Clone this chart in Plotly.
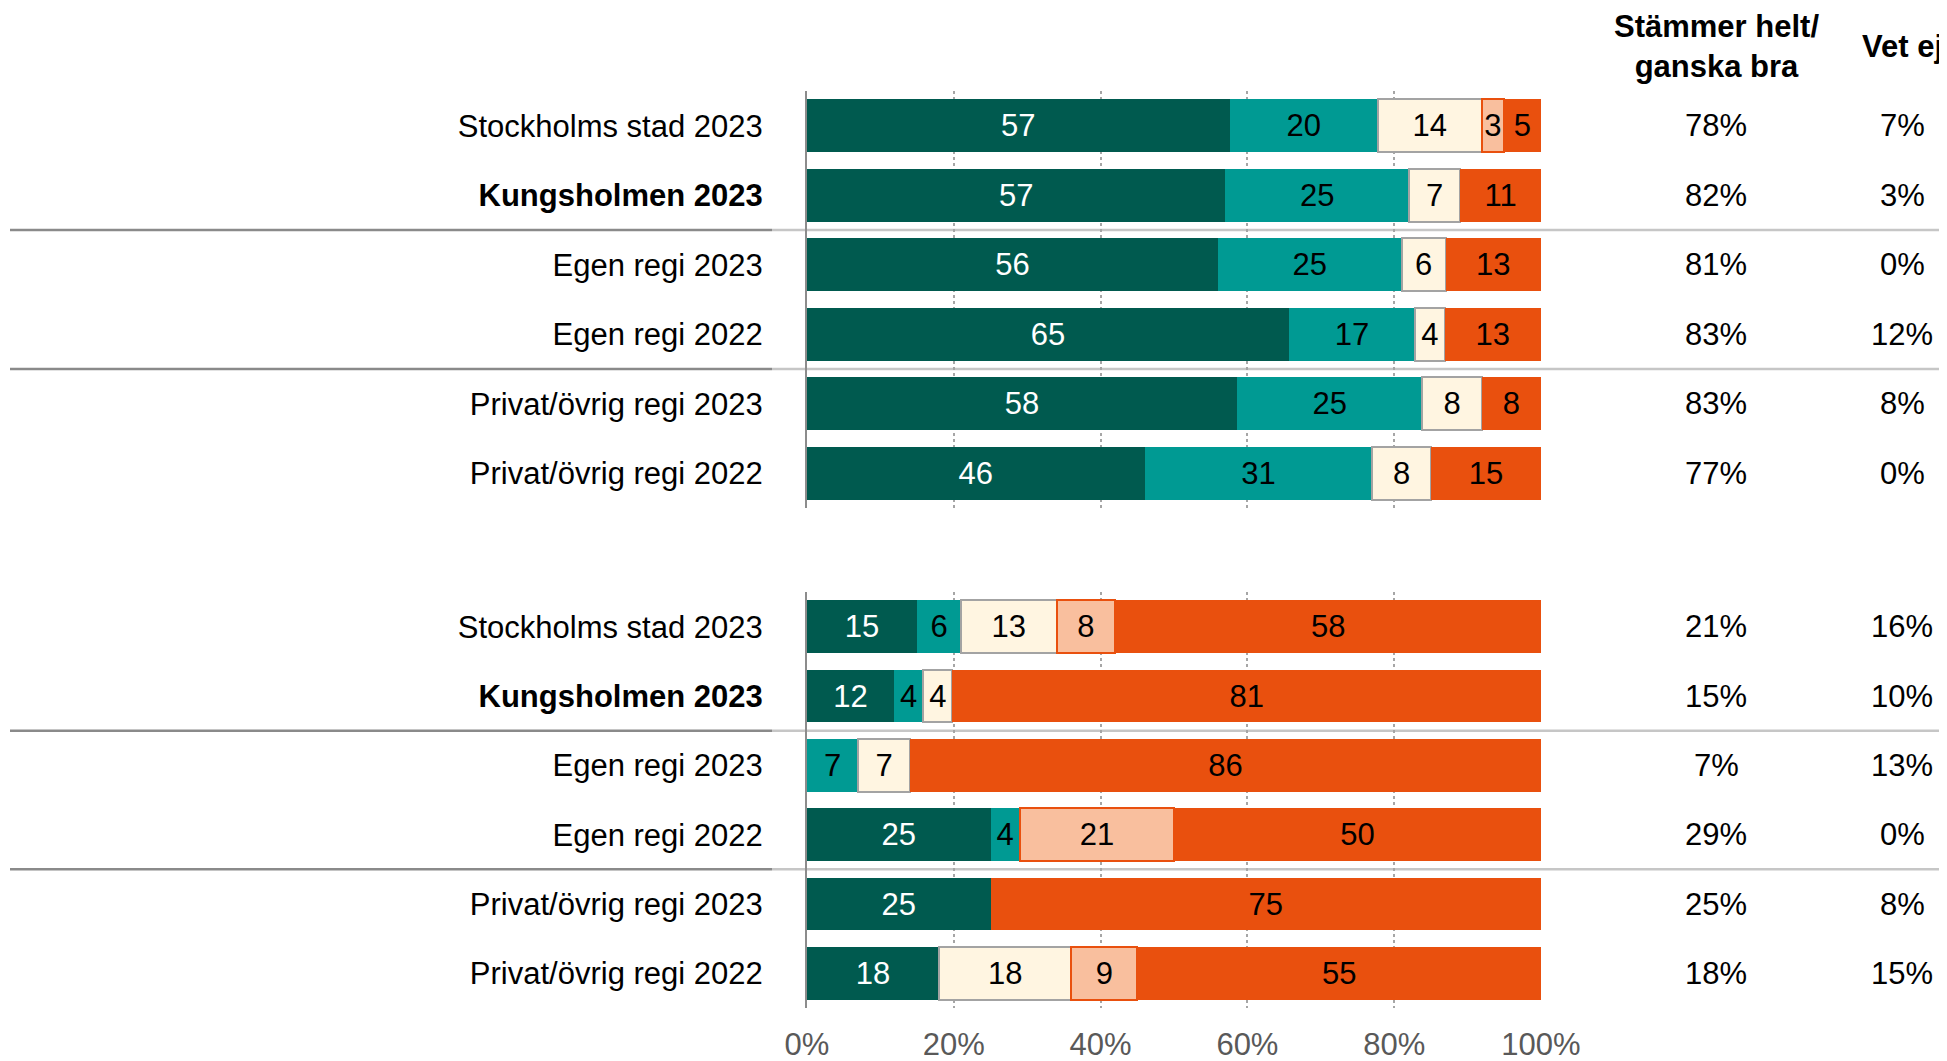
import plotly.graph_objects as go

# ---------------- data ----------------
categories = ["Stockholms stad 2023", "Kungsholmen 2023", "Egen regi 2023",
              "Egen regi 2022", "Privat/övrig regi 2023", "Privat/övrig regi 2022"]
bold_category = "Kungsholmen 2023"
series_names = ["Stämmer helt", "Stämmer ganska bra", "Varken eller",
                "Stämmer ganska dåligt", "Stämmer helt dåligt"]

top_s1 = [57, 57, 56, 65, 58, 46]
top_s2 = [20, 25, 25, 17, 25, 31]
top_s3 = [14, 7, 6, 4, 8, 8]
top_s4 = [3, 0, 0, 0, 0, 0]
top_s5 = [5, 11, 13, 13, 8, 15]
top_good = ["78%", "82%", "81%", "83%", "83%", "77%"]
top_dontknow = ["7%", "3%", "0%", "12%", "8%", "0%"]

bottom_s1 = [15, 12, 0, 25, 25, 18]
bottom_s2 = [6, 4, 7, 4, 0, 0]
bottom_s3 = [13, 4, 7, 0, 0, 18]
bottom_s4 = [8, 0, 0, 21, 0, 9]
bottom_s5 = [58, 81, 86, 50, 75, 55]
bottom_good = ["21%", "15%", "7%", "29%", "25%", "18%"]
bottom_dontknow = ["16%", "10%", "13%", "0%", "8%", "15%"]

col_header_good = "Stämmer helt/<br>ganska bra"
col_header_dontknow = "Vet ej"
x_ticks = [0, 20, 40, 60, 80, 100]
x_tick_labels = ["0%", "20%", "40%", "60%", "80%", "100%"]

# ---------------- styles / geometry ----------------
FONT = "Liberation Sans, Arial, sans-serif"
FS = 31
fills = ["#005a4f", "#009a93", "#fff5e1", "#f9bf9e", "#e9500e"]
borders = [None, None, "#a3a3a3", "#e9500e", None]
txtcol = ["white", "black", "black", "black", "black"]

W0, H0 = 1947, 1061
OFF = 8  # page body margin
W, H = W0 - OFF, H0 - OFF


def px(p):
    return (p - OFF) / W


def py(p):
    return 1 - (p - OFF) / H


xdom = [px(807), px(1541)]
ydom_top = [py(508), py(91)]
ydom_bot = [py(1008), py(592)]

fig = go.Figure()

groups = [
    ([top_s1, top_s2, top_s3, top_s4, top_s5], "x", "y", top_good, top_dontknow),
    ([bottom_s1, bottom_s2, bottom_s3, bottom_s4, bottom_s5], "x2", "y2", bottom_good, bottom_dontknow),
]

for series, xa, ya, good, dk in groups:
    for i, vals in enumerate(series):
        fig.add_trace(go.Bar(
            y=categories,
            x=[v if v else None for v in vals],
            orientation="h",
            name=series_names[i],
            xaxis=xa, yaxis=ya,
            marker=dict(color=fills[i],
                        line=dict(color=borders[i] or fills[i],
                                  width=2 if borders[i] else 0)),
            text=[str(v) if v else "" for v in vals],
            textposition="inside",
            insidetextanchor="middle",
            textangle=0,
            textfont=dict(family=FONT, size=FS, color=txtcol[i]),
            width=0.76,
            showlegend=False,
            hoverinfo="skip",
        ))
    for c, g, d in zip(categories, good, dk):
        fig.add_annotation(x=px(1716), y=c, xref="paper", yref=ya, text=g,
                           showarrow=False, xanchor="center", yanchor="middle",
                           font=dict(family=FONT, size=FS, color="black"))
        fig.add_annotation(x=px(1902), y=c, xref="paper", yref=ya, text=d,
                           showarrow=False, xanchor="center", yanchor="middle",
                           font=dict(family=FONT, size=FS, color="black"))
    # separator lines between category groups (darker under labels, lighter across chart)
    for yb in (1.5, 3.5):
        fig.add_shape(type="line", xref="paper", yref=ya,
                      x0=px(10), x1=px(772), y0=yb, y1=yb,
                      line=dict(color="#8a8a8a", width=2.5),
                      layer="below")
        fig.add_shape(type="line", xref="paper", yref=ya,
                      x0=px(772), x1=1.0, y0=yb, y1=yb,
                      line=dict(color="#c6c6c6", width=2.5),
                      layer="below")

fig.add_annotation(x=px(1716), y=py(47), xref="paper", yref="paper",
                   text="<b>" + col_header_good + "</b>", showarrow=False,
                   xanchor="center", yanchor="middle",
                   font=dict(family=FONT, size=FS, color="black"))
fig.add_annotation(x=px(1902), y=py(47), xref="paper", yref="paper",
                   text="<b>" + col_header_dontknow + "</b>", showarrow=False,
                   xanchor="center", yanchor="middle",
                   font=dict(family=FONT, size=FS, color="black"))

ticktext = ["<b>" + c + "</b>" if c == bold_category else c for c in categories]

xcommon = dict(range=[0, 100], domain=xdom, showgrid=True, gridcolor="#a6a6a6",
               griddash="dot", gridwidth=1.5, zeroline=False, showline=False,
               tickvals=x_ticks, ticktext=x_tick_labels, fixedrange=True,
               automargin=False,
               tickfont=dict(family=FONT, size=FS, color="#595959"))
ycommon = dict(type="category", categoryorder="array", categoryarray=categories,
               range=[5.5, -0.5], showgrid=False, zeroline=False,
               showline=True, linecolor="#8c8c8c", linewidth=2,
               tickvals=categories, ticktext=ticktext, ticks="",
               ticklabelstandoff=36, automargin=False,
               tickfont=dict(family=FONT, size=FS, color="black"))

fig.update_layout(
    template="none",
    width=W, height=H,
    margin=dict(l=0, r=0, t=0, b=0),
    paper_bgcolor="white", plot_bgcolor="white",
    barmode="stack", barnorm="percent",
    uniformtext=dict(minsize=FS, mode="show"),
    font=dict(family=FONT, size=FS, color="black"),
    xaxis=dict(xcommon, anchor="y", showticklabels=False),
    yaxis=dict(ycommon, domain=ydom_top, anchor="x"),
    xaxis2=dict(xcommon, anchor="y2", showticklabels=True, ticks="outside",
                ticklen=9, tickcolor="rgba(0,0,0,0)"),
    yaxis2=dict(ycommon, domain=ydom_bot, anchor="x2"),
)

fig.write_html("out.html")
